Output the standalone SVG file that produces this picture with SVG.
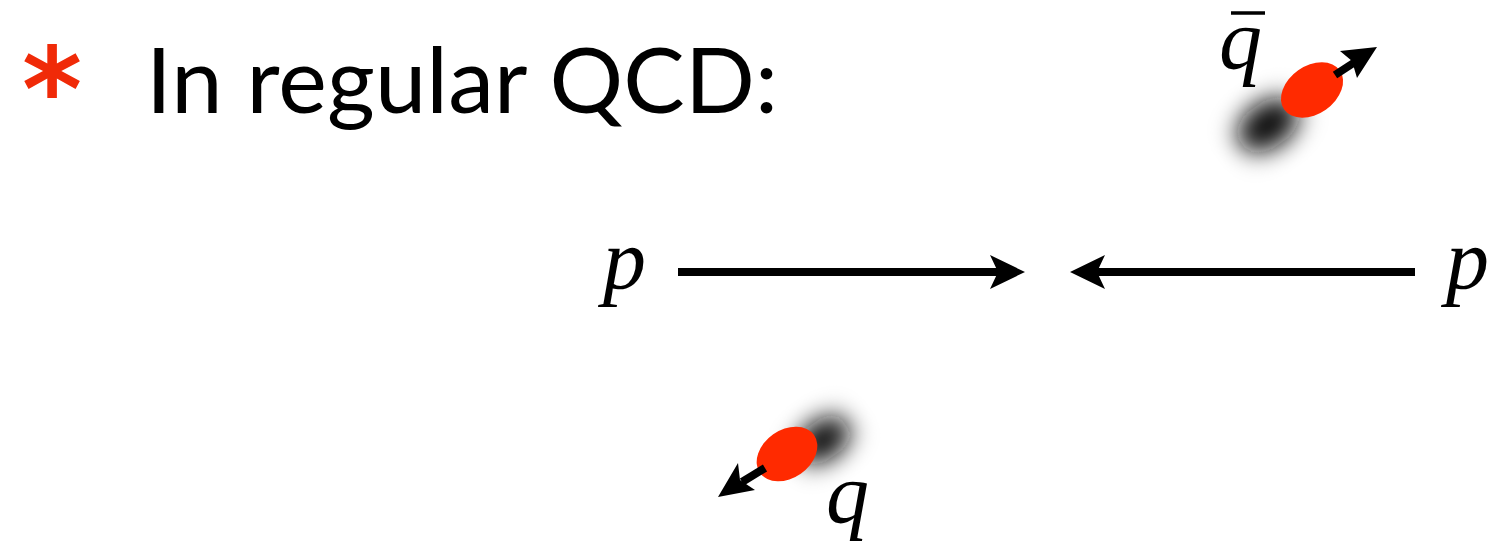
<svg xmlns="http://www.w3.org/2000/svg" width="1505" height="543" viewBox="0 0 1505 543">
  <style>
    .title { font-family: Lato, "Open Sans", "Liberation Sans", sans-serif; font-size: 92px; fill: #000; }
    .bullet { font-family: "DejaVu Sans", sans-serif; font-weight: bold; font-size: 115px; fill: #f02a08; }
    .math { font-family: "Liberation Serif", "DejaVu Serif", serif; font-style: italic; font-size: 86px; fill: #000; }
    .shaft { stroke: #000; stroke-width: 8; fill: none; }
    .head { fill: #000; }
    .quark { fill: #ff2a00; }
    .shadow { fill: #111; filter: url(#blur); }
  </style>
  <defs>
    <filter id="blur" x="-100%" y="-100%" width="300%" height="300%">
      <feGaussianBlur stdDeviation="12"/>
    </filter>
  </defs>
  <rect width="1505" height="543" fill="#fff"/>

  <g id="title">
    <text class="bullet" x="52" y="130" text-anchor="middle">*</text>
    <text class="title" x="146" y="113" textLength="632" lengthAdjust="spacing">In regular QCD:</text>
  </g>

  <g id="proton-left">
    <text class="math" x="603" y="288">p</text>
  </g>
  <g id="proton-right">
    <text class="math" x="1446" y="288">p</text>
  </g>

  <g id="antiquark">
    <ellipse class="shadow" cx="1268" cy="125" rx="34" ry="23" transform="rotate(-35 1268 125)"/>
    <ellipse class="quark" cx="1312" cy="90" rx="34" ry="24" transform="rotate(-35 1312 90)"/>
    <text class="math" x="1219" y="68">q</text>
    <line x1="1231" y1="13" x2="1265" y2="13" stroke="#000" stroke-width="3.5"/>
  </g>

  <g id="quark">
    <ellipse class="shadow" cx="823" cy="440" rx="30" ry="20" transform="rotate(-35 823 440)"/>
    <ellipse class="quark" cx="787" cy="454" rx="33" ry="24" transform="rotate(-35 787 454)"/>
    <text class="math" x="826" y="522">q</text>
  </g>

  <g id="connectors">
    <line class="shaft" x1="678" y1="272" x2="1000" y2="272"/>
    <path class="head" d="M1025,272 L990,255 L998,272 L990,289 Z"/>
    <line class="shaft" x1="1415" y1="272" x2="1095" y2="272"/>
    <path class="head" d="M1070,272 L1105,255 L1097,272 L1105,289 Z"/>
    <line class="shaft" x1="1335" y1="75" x2="1355" y2="62"/>
    <path class="head" d="M1377,47 L1340,51 L1352,61 L1357,78 Z"/>
    <line class="shaft" x1="765" y1="468" x2="742" y2="482"/>
    <path class="head" d="M718,497 L738,463 L740,480 L755,490 Z"/>
  </g>
</svg>
